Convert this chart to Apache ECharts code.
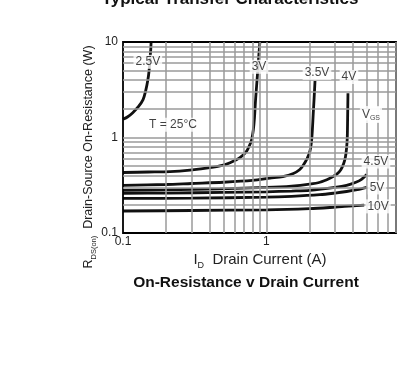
<!DOCTYPE html>
<html><head><meta charset="utf-8">
<script src="https://cdn.jsdelivr.net/npm/echarts@6/dist/echarts.min.js"></script>
<style>html,body{margin:0;padding:0;background:#fff}#c{width:407px;height:366px}</style>
</head><body><div id="c"></div>
<script>
// ---- data ----
const seriesNames = ['2.5V', '3V', '3.5V', '4V', '4.5V', '5V', '10V'];
const vgs25 = [[0.1,1.55],[0.108,1.65],[0.117,1.82],[0.128,2.1],[0.138,2.49],[0.144,3.1],[0.149,4.0],[0.152,5.0],[0.154,6.5],[0.156,8.2],[0.157,10]];
const vgs3 = [[0.1,0.43],[0.15,0.435],[0.213,0.44],[0.293,0.456],[0.404,0.483],[0.5,0.515],[0.557,0.545],[0.653,0.615],[0.728,0.72],[0.767,0.845],[0.789,0.95],[0.81,1.2],[0.825,1.6],[0.84,2.5],[0.86,4.0],[0.88,6.5],[0.9,10]];
const vgs35 = [[0.1,0.316],[0.2,0.322],[0.3,0.33],[0.5,0.34],[0.8,0.355],[1.06,0.375],[1.3,0.39],[1.54,0.42],[1.7,0.46],[1.8,0.51],[1.92,0.6],[2.01,0.72],[2.06,0.9],[2.09,1.2],[2.12,1.8],[2.15,2.6],[2.18,3.9]];
const vgs4 = [[0.1,0.28],[0.2,0.283],[0.474,0.29],[1.0,0.30],[1.5,0.31],[2.0,0.325],[2.36,0.34],[2.77,0.375],[3.08,0.41],[3.3,0.46],[3.45,0.53],[3.55,0.62],[3.62,0.78],[3.66,1.0],[3.68,1.6],[3.7,2.9]];
const vgs45 = [[0.1,0.26],[0.2,0.262],[0.5,0.266],[1.0,0.27],[1.5,0.275],[2.0,0.28],[3.0,0.3],[3.62,0.315],[4.2,0.34],[4.6,0.365],[5.0,0.41]];
const vgs5 = [[0.1,0.23],[0.3,0.232],[1.0,0.237],[1.5,0.242],[2.36,0.252],[3.0,0.262],[3.62,0.272],[4.3,0.284],[5.0,0.3]];
const vgs10 = [[0.1,0.17],[0.3,0.172],[1.0,0.175],[2.0,0.18],[2.77,0.185],[3.5,0.19],[4.8,0.196]];
const xTickLabels = [0.1, 1];
const yTickLabels = [0.1, 1, 10];
const xGridValues = [0.2,0.3,0.4,0.5,0.6,0.7,0.8,0.9,1,2,3,4,5,6,7,8];
const yGridValues = [0.2,0.3,0.4,0.5,0.6,0.7,0.8,0.9,1,2,3,4,5,6,7,8,9];
const noteTexts = ['2.5V','3V','3.5V','4V','{v|V}{s|GS}','4.5V','5V','10V','T = 25°C'];
const noteAnchors = [[0.149,6.2],[0.887,5.5],[2.25,4.75],[3.76,4.3],[5.35,1.74],[5.8,0.56],[5.9,0.30],[6.0,0.19],[0.223,1.36]];

const FONT = '"Liberation Sans", Arial, Helvetica, sans-serif';
const curves = [vgs25, vgs3, vgs35, vgs4, vgs45, vgs5, vgs10];

const chart = echarts.init(document.getElementById('c'), null, {renderer: 'canvas'});
const series = [];
series.push({
  type: 'line', data: [], silent: true, z: 1,
  markLine: {
    silent: true, symbol: 'none', animation: false,
    label: {show: false},
    lineStyle: {type: 'solid', color: '#9a9a9a', width: 1.5},
    data: xGridValues.map(v => ({xAxis: v})).concat(yGridValues.map(v => ({yAxis: v})))
  }
});
curves.forEach((d, i) => series.push({
  name: seriesNames[i], type: 'line', data: d, smooth: 0.3, showSymbol: false,
  symbol: 'none', z: 3, silent: true,
  lineStyle: {color: '#111', width: 2.8}
}));
series.push({
  type: 'scatter', z: 5, silent: true, symbolSize: 0,
  data: noteAnchors.map((p, i) => ({value: p, name: noteTexts[i]})),
  label: {
    show: true, position: 'inside', formatter: p => p.name,
    color: '#111', fontFamily: FONT, fontSize: 12,
    backgroundColor: '#fff', padding: [1, 2],
    rich: {
      v: {fontFamily: FONT, fontSize: 12, color: '#111', backgroundColor: '#fff'},
      s: {fontFamily: FONT, fontSize: 7, color: '#111', padding: [8, 0, 0, 0], backgroundColor: '#fff'}
    }
  }
});

chart.setOption({
  animation: false,
  backgroundColor: '#fff',
  grid: {left: 123, top: 42, right: 11, bottom: 133, show: true, borderColor: '#000', borderWidth: 1.8, backgroundColor: 'transparent', z: 4},
  xAxis: {
    type: 'log', logBase: 10, min: 0.1, max: 8,
    axisLine: {show: false}, axisTick: {show: false}, splitLine: {show: false},
    axisLabel: {
      margin: 3, color: '#222', fontFamily: FONT, fontSize: 12,
      showMaxLabel: false,
      formatter: v => { const r = +(+v).toPrecision(3); return xTickLabels.some(t => Math.abs(t - r) < 1e-9) ? String(r) : ''; }
    }
  },
  yAxis: {
    type: 'log', logBase: 10, min: 0.1, max: 10,
    axisLine: {show: false}, axisTick: {show: false}, splitLine: {show: false},
    axisLabel: {
      margin: 5, color: '#222', fontFamily: FONT, fontSize: 12,
      formatter: v => { const r = +(+v).toPrecision(3); return yTickLabels.some(t => Math.abs(t - r) < 1e-9) ? String(r) : ''; }
    }
  },
  graphic: [
    {type: 'text', x: 230, y: -1, style: {text: 'Typical Transfer Characteristics', font: 'bold 17px ' + FONT, fill: '#111', align: 'center', verticalAlign: 'middle'}},
    {type: 'text', x: 89, y: 157, rotation: Math.PI / 2, style: {
      text: '{r|R}{s|DS(on)}{r|  Drain-Source On-Resistance (W)}', align: 'center', verticalAlign: 'middle',
      rich: {r: {fontFamily: FONT, fontSize: 12.5, fill: '#222'}, s: {fontFamily: FONT, fontSize: 7.5, fill: '#222', padding: [9, 0, 0, 0]}}
    }},
    {type: 'text', x: 260, y: 260, style: {
      text: '{r|I}{s|D}{r|  Drain Current (A)}', align: 'center', verticalAlign: 'middle',
      rich: {r: {fontFamily: FONT, fontSize: 15, fill: '#222'}, s: {fontFamily: FONT, fontSize: 9, fill: '#222', padding: [11, 0, 0, 0]}}
    }},
    {type: 'text', x: 246, y: 283, style: {text: 'On-Resistance v Drain Current', font: 'bold 15.5px ' + FONT, fill: '#111', align: 'center', verticalAlign: 'middle'}}
  ],
  series: series
});
</script>
</body></html>
